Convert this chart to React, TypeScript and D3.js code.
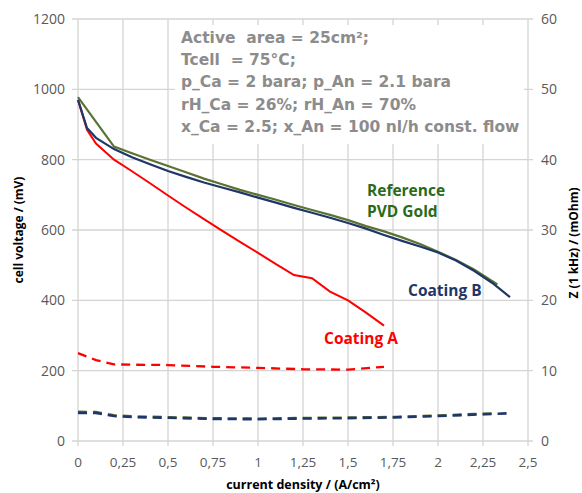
import React from "react";
import * as d3 from "d3";

// polarisation curves: current density (A/cm²) vs cell voltage (mV)
const refCurrent = [0, 0.2, 0.3, 0.4, 0.5, 0.6, 0.7, 0.8, 0.9, 1.0, 1.1, 1.2, 1.3, 1.4, 1.5, 1.6, 1.7, 1.8, 1.9, 2.0, 2.1, 2.2, 2.33];
const refVoltage = [978, 837, 818, 800, 782, 764, 746, 730, 714, 700, 686, 671, 657, 643, 628, 611, 596, 579, 560, 538, 515, 488, 445];

const coatBCurrent = [0, 0.05, 0.1, 0.2, 0.3, 0.4, 0.5, 0.6, 0.7, 0.8, 0.9, 1.0, 1.1, 1.2, 1.3, 1.4, 1.5, 1.6, 1.7, 1.8, 1.9, 2.0, 2.1, 2.2, 2.3, 2.4];
const coatBVoltage = [970, 890, 862, 830, 807, 787, 768, 751, 735, 721, 707, 692, 678, 663, 649, 635, 620, 604, 586, 569, 553, 536, 513, 484, 450, 409];

const coatACurrent = [0, 0.05, 0.1, 0.2, 0.3, 0.4, 0.5, 0.6, 0.7, 0.8, 0.9, 1.0, 1.1, 1.2, 1.3, 1.4, 1.5, 1.6, 1.7];
const coatAVoltage = [970, 885, 846, 800, 767, 733, 698, 664, 631, 598, 566, 535, 503, 472, 463, 425, 400, 365, 328];

// high frequency resistance Z (1 kHz) in mOhm, right axis
const refZCurrent = [0, 0.1, 0.2, 0.3, 0.5, 0.75, 1.0, 1.25, 1.5, 1.75, 2.0, 2.2, 2.3];
const refZ = [4.15, 4.1, 3.65, 3.5, 3.38, 3.22, 3.17, 3.27, 3.32, 3.42, 3.62, 3.82, 3.9];

const coatBZCurrent = [0, 0.1, 0.2, 0.3, 0.5, 0.75, 1.0, 1.25, 1.5, 1.75, 2.0, 2.25, 2.4];
const coatBZ = [4.0, 4.0, 3.55, 3.4, 3.3, 3.15, 3.1, 3.2, 3.25, 3.35, 3.55, 3.8, 3.95];

const coatAZCurrent = [0, 0.1, 0.2, 0.3, 0.5, 0.75, 1.0, 1.25, 1.5, 1.7];
const coatAZ = [12.5, 11.5, 10.9, 10.85, 10.8, 10.55, 10.4, 10.2, 10.15, 10.55];

const xTicks = [0, 0.25, 0.5, 0.75, 1, 1.25, 1.5, 1.75, 2, 2.25, 2.5];
const yTicks = [0, 200, 400, 600, 800, 1000, 1200];
const zTicks = [0, 10, 20, 30, 40, 50, 60];

const infoLines = [
  "Active  area = 25cm²;",
  "Tcell  = 75°C;",
  "p_Ca = 2 bara; p_An = 2.1 bara",
  "rH_Ca = 26%; rH_An = 70%",
  "x_Ca = 2.5; x_An = 100 nl/h const. flow",
];

const W = 582;
const H = 493;
const left = 78, right = 528, top = 19, bottom = 441;

const RED = "#ff0000";
const BLUE = "#1f3668";
const GREEN = "#5b7332";
const GRID = "#d4d4d4";
const TICKTXT = "#595959";
const font = "'Open Sans', sans-serif";

export default function App() {
  const x = d3.scaleLinear().domain([0, 2.5]).range([left, right]);
  const y = d3.scaleLinear().domain([0, 1200]).range([bottom, top]);
  const yz = d3.scaleLinear().domain([0, 60]).range([bottom, top]);

  const lineV = (xs: number[], vs: number[]) =>
    d3.line<number>().x((_, i) => x(xs[i])).y((v) => y(v))(vs) || "";
  const lineZ = (xs: number[], zs: number[]) =>
    d3.line<number>().x((_, i) => x(xs[i])).y((z) => yz(z))(zs) || "";

  const fmt = (t: number) => String(t).replace(".", ",");

  return (
    <svg width={W} height={H} style={{ position: "absolute", left: 0, top: 0, display: "block", background: "#fff" }}>
      {/* grid */}
      {xTicks.map((t) => (
        <line key={"gx" + t} x1={x(t)} x2={x(t)} y1={top} y2={bottom + 5} stroke={GRID} strokeWidth={1.3} />
      ))}
      {yTicks.map((t) => (
        <line key={"gy" + t} x1={left - 6} x2={right + 5} y1={y(t)} y2={y(t)} stroke={GRID} strokeWidth={1.3} />
      ))}

      {/* info box */}
      <rect x={175} y={25} width={349} height={119} fill="#fff" />
      {infoLines.map((s, i) => (
        <text
          key={s}
          x={181}
          y={43 + i * 22.2}
          fontFamily="'DejaVu Sans', sans-serif"
          fontWeight="bold"
          fontSize={15.5}
          fill="#8c8c8c"
          style={{ whiteSpace: "pre" }}
        >
          {s}
        </text>
      ))}

      {/* tick labels */}
      {xTicks.map((t) => (
        <text key={"tx" + t} x={x(t)} y={467} textAnchor="middle" fontFamily={font} fontSize={13.5} fill={TICKTXT}>
          {fmt(t)}
        </text>
      ))}
      {yTicks.map((t) => (
        <text key={"ty" + t} x={65} y={y(t) + 5} textAnchor="end" fontFamily={font} fontSize={14} fill={TICKTXT}>
          {t}
        </text>
      ))}
      {zTicks.map((t) => (
        <text key={"tz" + t} x={541} y={yz(t) + 5} textAnchor="start" fontFamily={font} fontSize={14} fill={TICKTXT}>
          {t}
        </text>
      ))}

      {/* axis titles */}
      <text x={303} y={489} textAnchor="middle" fontFamily={font} fontWeight="bold" fontSize={12.5} fill="#000">
        current density / (A/cm²)
      </text>
      <text
        transform={`translate(23,230) rotate(-90)`}
        textAnchor="middle"
        fontFamily={font}
        fontWeight="bold"
        fontSize={12}
        fill="#000"
      >
        cell voltage / (mV)
      </text>
      <text
        transform={`translate(578,243) rotate(-90)`}
        textAnchor="middle"
        fontFamily={font}
        fontWeight="bold"
        fontSize={12}
        fill="#000"
      >
        Z (1 kHz) / (mOhm)
      </text>

      {/* HFR dashed lines */}
      <path d={lineZ(refZCurrent, refZ)} fill="none" stroke={GREEN} strokeWidth={2.6} strokeDasharray="9 6" />
      <path d={lineZ(coatBZCurrent, coatBZ)} fill="none" stroke={BLUE} strokeWidth={2.6} strokeDasharray="9 6" />
      <path d={lineZ(coatAZCurrent, coatAZ)} fill="none" stroke={RED} strokeWidth={2.3} strokeDasharray="9 6" />

      {/* polarisation curves */}
      <path d={lineV(coatACurrent, coatAVoltage)} fill="none" stroke={RED} strokeWidth={2} />
      <path d={lineV(refCurrent, refVoltage)} fill="none" stroke={GREEN} strokeWidth={2.2} />
      <path d={lineV(coatBCurrent, coatBVoltage)} fill="none" stroke={BLUE} strokeWidth={2.2} />

      {/* series labels */}
      <text x={367} y={196} fontFamily={font} fontWeight="bold" fontSize={15.5} fill="#2a6a18">
        Reference
      </text>
      <text x={367} y={217} fontFamily={font} fontWeight="bold" fontSize={15.5} fill="#2a6a18">
        PVD Gold
      </text>
      <text x={408} y={296} fontFamily={font} fontWeight="bold" fontSize={15.5} fill="#1f3668">
        Coating B
      </text>
      <text x={324} y={344} fontFamily={font} fontWeight="bold" fontSize={15.5} fill={RED}>
        Coating A
      </text>
    </svg>
  );
}
